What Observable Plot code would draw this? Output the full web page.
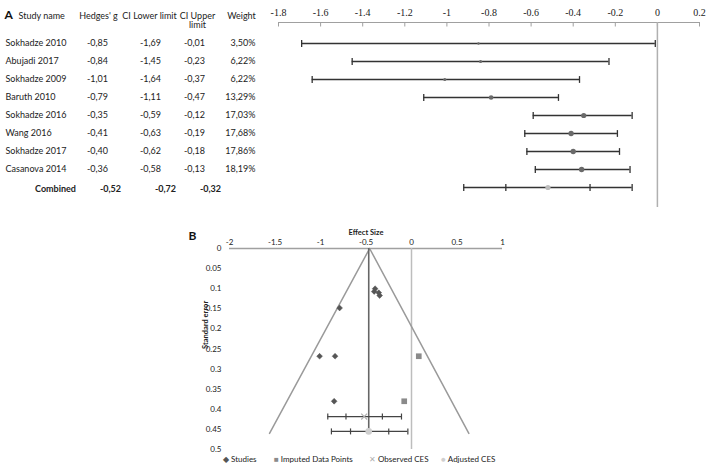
<!DOCTYPE html>
<html>
<head>
<meta charset="utf-8">
<script src="https://cdn.jsdelivr.net/npm/d3@7"></script>
<script src="https://cdn.jsdelivr.net/npm/@observablehq/plot@0.6"></script>
<style>
  body { margin: 0; background: #fff; }
  #wrap { position: relative; width: 708px; height: 469px; overflow: hidden; background: #fff; font-family: Lato, sans-serif; }
  #wrap svg { position: absolute; left: 0; }
  .leg { position: absolute; top: 453px; font: 8px Lato, sans-serif; color: #222; white-space: nowrap; line-height: 12px; }
  .leg b { font-weight: normal; margin-right: 2px; }
</style>
</head>
<body>
<div id="wrap"></div>
<script>
// ---------- Panel A data (forest plot) ----------
const studies = ["Sokhadze 2010", "Abujadi 2017", "Sokhadze 2009", "Baruth 2010", "Sokhadze 2016", "Wang 2016", "Sokhadze 2017", "Casanova 2014"];
const hedgesG = [-0.85, -0.84, -1.01, -0.79, -0.35, -0.41, -0.40, -0.36];
const ciLower = [-1.69, -1.45, -1.64, -1.11, -0.59, -0.63, -0.62, -0.58];
const ciUpper = [-0.01, -0.23, -0.37, -0.47, -0.12, -0.19, -0.18, -0.13];
const weights = [3.50, 6.22, 6.22, 13.29, 17.03, 17.68, 17.86, 18.19];
const combinedLabel = "Combined";
const combinedG = -0.52, combinedLower = -0.72, combinedUpper = -0.32;
const combinedPredLower = -0.92, combinedPredUpper = -0.12;
const xTicksA = [-1.8, -1.6, -1.4, -1.2, -1, -0.8, -0.6, -0.4, -0.2, 0, 0.2];

// ---------- Panel B data (funnel plot) ----------
const funnelG = [-0.85, -0.84, -1.01, -0.79, -0.35, -0.41, -0.40, -0.36];
const funnelSE = [0.38, 0.268, 0.268, 0.148, 0.117, 0.107, 0.100, 0.110];
const imputedG = [0.08, -0.08];
const imputedSE = [0.268, 0.38];
const observedCES = {g: -0.52, se: 0.418, ci: [-0.72, -0.32], pi: [-0.92, -0.11]};
const adjustedCES = {g: -0.47, se: 0.455, ci: [-0.67, -0.25], pi: [-0.88, -0.04]};
const funnelApexG = -0.46, funnelBottomSE = 0.46, funnelLeftG = -1.56, funnelRightG = 0.63;
const xTicksB = [-2, -1.5, -1, -0.5, 0, 0.5, 1];
const yTicksB = [0, 0.05, 0.1, 0.15, 0.2, 0.25, 0.3, 0.35, 0.4, 0.45, 0.5];
const legendItems = ["Studies", "Imputed Data Points", "Observed CES", "Adjusted CES"];

// ---------- helpers ----------
const comma = (v) => v.toFixed(2).replace(".", ",");
const vbar = {draw(ctx, size) { const h = Math.sqrt(size / Math.PI); ctx.moveTo(0, -h); ctx.lineTo(0, h); }};
const wrap = document.getElementById("wrap");

// ---------- Panel A ----------
const rows = studies.concat([combinedLabel]);
const studyData = studies.map((s, i) => ({name: s, g: hedgesG[i], lo: ciLower[i], hi: ciUpper[i], w: weights[i]}));
const combData = [{name: combinedLabel, g: combinedG, lo: combinedLower, hi: combinedUpper, plo: combinedPredLower, phi: combinedPredUpper}];
const capsA = studyData.flatMap(d => [{name: d.name, x: d.lo}, {name: d.name, x: d.hi}])
  .concat(combData.flatMap(d => [d.plo, d.lo, d.hi, d.phi].map(x => ({name: d.name, x}))));

const LEFT_A = 278;
const txt = {fill: "#222", fontFamily: "Lato", fontSize: 9, textAnchor: "middle"};
const plotA = Plot.plot({
  width: 708, height: 215,
  marginTop: 22, marginLeft: LEFT_A, marginRight: 9, marginBottom: 8,
  style: {background: "transparent", overflow: "visible", fontFamily: "Lato"},
  x: {domain: [-1.8, 0.2]},
  y: {type: "point", domain: rows, range: [41, 189], padding: 0, axis: null},
  r: {type: "sqrt", domain: [0, 18.19], range: [0, 2.7]},
  marks: [
    Plot.frame({anchor: "top", stroke: "#a0a0a0"}),
    Plot.axisX({anchor: "top", ticks: xTicksA, tickSize: 0, tickPadding: 7, label: null,
      tickFormat: d => String(+d.toFixed(1)), fontFamily: "Liberation Serif", fontSize: 10, fill: "#222"}),
    Plot.dot(xTicksA, {x: d => d, frameAnchor: "top", dy: 2, symbol: vbar, r: 2, stroke: "#a0a0a0", strokeWidth: 1}),
    Plot.ruleX([0], {stroke: "#b0b0b0", strokeWidth: 1.5}),
    Plot.ruleY(studyData, {y: "name", x1: "lo", x2: "hi", stroke: "#333", strokeWidth: 1.3}),
    Plot.ruleY(combData, {y: "name", x1: "plo", x2: "phi", stroke: "#333", strokeWidth: 1.3}),
    Plot.dot(capsA, {x: "x", y: "name", symbol: vbar, r: 3.4, stroke: "#333", strokeWidth: 1.3}),
    Plot.dot(studyData, {x: "g", y: "name", r: "w", fill: "#6a6a6a"}),
    Plot.dot(combData, {x: "g", y: "name", r: 2.6, fill: "#bdbdbd"}),
    // table
    Plot.text(["A"], {text: d => d, frameAnchor: "top-left", dx: 4 - LEFT_A, dy: -12, textAnchor: "start", fontWeight: "bold", fontSize: 12, fontFamily: "Lato", fill: "#111"}),
    Plot.text(["Study name"], {...txt, text: d => d, frameAnchor: "top-left", dx: 18 - LEFT_A, dy: -10, textAnchor: "start"}),
    Plot.text(["Hedges' g"], {...txt, text: d => d, frameAnchor: "top-left", dx: 98 - LEFT_A, dy: -10}),
    Plot.text(["CI Lower limit"], {...txt, text: d => d, frameAnchor: "top-left", dx: 149 - LEFT_A, dy: -10}),
    Plot.text(["CI Upper\nlimit"], {...txt, text: d => d, frameAnchor: "top-left", dx: 197 - LEFT_A, dy: -11, lineHeight: 1.1}),
    Plot.text(["Weight"], {...txt, text: d => d, frameAnchor: "top-left", dx: 241 - LEFT_A, dy: -10}),
    Plot.text(studyData, {...txt, y: "name", text: "name", frameAnchor: "left", dx: 5 - LEFT_A, textAnchor: "start"}),
    Plot.text(studyData, {...txt, y: "name", text: d => comma(d.g), frameAnchor: "left", dx: 97 - LEFT_A}),
    Plot.text(studyData, {...txt, y: "name", text: d => comma(d.lo), frameAnchor: "left", dx: 150 - LEFT_A}),
    Plot.text(studyData, {...txt, y: "name", text: d => comma(d.hi), frameAnchor: "left", dx: 194 - LEFT_A}),
    Plot.text(studyData, {...txt, y: "name", text: d => comma(d.w) + "%", frameAnchor: "left", dx: 255 - LEFT_A, textAnchor: "end"}),
    Plot.text(combData, {...txt, y: "name", text: "name", frameAnchor: "left", dx: 55 - LEFT_A, fontWeight: "bold", dy: 2}),
    Plot.text(combData, {...txt, y: "name", text: d => comma(d.g), frameAnchor: "left", dx: 110 - LEFT_A, fontWeight: "bold", dy: 2}),
    Plot.text(combData, {...txt, y: "name", text: d => comma(d.lo), frameAnchor: "left", dx: 165 - LEFT_A, fontWeight: "bold", dy: 2}),
    Plot.text(combData, {...txt, y: "name", text: d => comma(d.hi), frameAnchor: "left", dx: 210 - LEFT_A, fontWeight: "bold", dy: 2})
  ]
});
plotA.style.top = "0px";
wrap.appendChild(plotA);

// ---------- Panel B ----------
const LEFT_B = 229, TOP_B = 33;
const studyPts = funnelG.map((g, i) => ({g, se: funnelSE[i]}));
const imputedPts = imputedG.map((g, i) => ({g, se: imputedSE[i]}));
const funnelPts = [{g: funnelLeftG, se: funnelBottomSE}, {g: funnelApexG, se: 0}, {g: funnelRightG, se: funnelBottomSE}];
const cesBars = [observedCES, adjustedCES].map(c => ({x1: c.pi[0], x2: c.pi[1], se: c.se}));
const cesCaps = [observedCES, adjustedCES].flatMap(c => [c.pi[0], c.ci[0], c.ci[1], c.pi[1]].map(x => ({x, se: c.se})));
const plotB = Plot.plot({
  width: 708, height: 254,
  marginTop: TOP_B, marginBottom: 20, marginLeft: LEFT_B, marginRight: 206,
  style: {background: "transparent", overflow: "visible", fontFamily: "Lato"},
  x: {domain: [-2, 1]},
  y: {domain: [0, 0.5], reverse: true},
  marks: [
    Plot.axisX({anchor: "top", ticks: xTicksB, tickSize: 0, tickPadding: 4, label: null,
      tickFormat: d => String(d), fontFamily: "Lato", fontSize: 8, fill: "#222"}),
    Plot.axisY({anchor: "left", ticks: yTicksB, tickSize: 0, tickPadding: 8, label: null,
      tickFormat: d => String(+d.toFixed(2)), fontFamily: "Lato", fontSize: 8, fill: "#222"}),
    Plot.text(["Effect Size"], {text: d => d, frameAnchor: "top", dy: -19, fontWeight: "bold", fontSize: 7.5, fontFamily: "Lato", fill: "#222"}),
    Plot.text(["Standard error"], {text: d => d, frameAnchor: "left", dx: -24, rotate: -90, fontWeight: "bold", fontSize: 7.5, fontFamily: "Lato", fill: "#222"}),
    Plot.text(["B"], {text: d => d, frameAnchor: "top-left", dx: 188 - LEFT_B, dy: -17, textAnchor: "start", fontWeight: "bold", fontSize: 12, fontFamily: "Lato", fill: "#111"}),
    Plot.ruleY([0], {stroke: "#a0a0a0", strokeWidth: 1.3}),
    Plot.ruleX([0], {stroke: "#bdbdbd", strokeWidth: 1.5}),
    Plot.line(funnelPts, {x: "g", y: "se", stroke: "#9a9a9a", strokeWidth: 1.5}),
    Plot.ruleX([adjustedCES], {x: "g", y1: () => 0, y2: "se", stroke: "#666", strokeWidth: 1.6}),
    Plot.ruleY(cesBars, {y: "se", x1: "x1", x2: "x2", stroke: "#444", strokeWidth: 1.2}),
    Plot.dot(cesCaps, {x: "x", y: "se", symbol: vbar, r: 3, stroke: "#444", strokeWidth: 1.2}),
    Plot.dot(studyPts, {x: "g", y: "se", symbol: "diamond2", r: 2.6, fill: "#555", stroke: "#555", strokeWidth: 0.5}),
    Plot.dot(imputedPts, {x: "g", y: "se", symbol: "square", r: 3.2, fill: "#8a8a8a"}),
    Plot.dot([observedCES], {x: "g", y: "se", symbol: "times", r: 2.8, stroke: "#b0b0b0", strokeWidth: 1.2}),
    Plot.dot([adjustedCES], {x: "g", y: "se", r: 3.3, fill: "#cfcfcf"})
  ]
});
plotB.style.top = "215px";
wrap.appendChild(plotB);

// ---------- Legend for Panel B ----------
const legendMarks = [["◆", "#555"], ["■", "#8a8a8a"], ["✕", "#b0b0b0"], ["●", "#cfcfcf"]];
const legendLeft = [223, 274, 369, 441];
legendItems.forEach((label, i) => {
  const el = document.createElement("div");
  el.className = "leg";
  el.style.left = legendLeft[i] + "px";
  el.innerHTML = `<b style="color:${legendMarks[i][1]}">${legendMarks[i][0]}</b>${label}`;
  wrap.appendChild(el);
});
</script>
</body>
</html>
